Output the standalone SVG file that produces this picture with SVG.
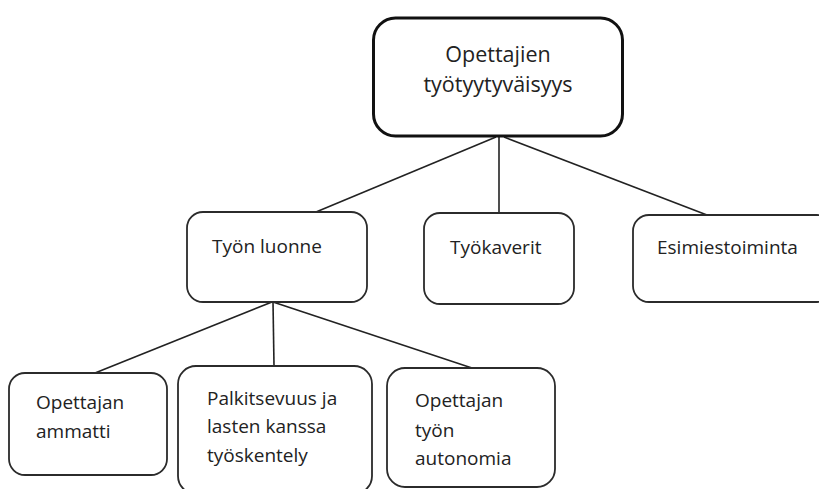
<svg xmlns="http://www.w3.org/2000/svg" width="819" height="489" viewBox="0 0 819 489">
<style>
.box{fill:#fff;stroke:#2b2b2b;stroke-width:1.8}
.main{fill:#fff;stroke:#111;stroke-width:3}
.lbl{font-family:"Open Sans","Noto Sans",sans-serif;font-size:19px;fill:#222}
.ttl{font-family:"Open Sans","Noto Sans",sans-serif;font-size:21.5px;fill:#222}
.con line{stroke:#222;stroke-width:1.6}
</style>
<rect width="819" height="489" fill="#fff"/>
<g class="con" id="connectors">
<line x1="496" y1="137" x2="316" y2="212"/>
<line x1="499" y1="137" x2="499" y2="213"/>
<line x1="504" y1="137" x2="707" y2="215"/>
<line x1="272" y1="302" x2="95" y2="373"/>
<line x1="273" y1="302" x2="274" y2="366"/>
<line x1="273" y1="302" x2="472" y2="368"/>
</g>
<g id="n-main">
<rect class="main" x="373.5" y="18" width="249" height="118" rx="22"/>
<text class="ttl" x="498" y="62" text-anchor="middle">Opettajien</text>
<text class="ttl" x="498" y="92" text-anchor="middle">työtyytyväisyys</text>
</g>
<g id="n-tyon-luonne">
<rect class="box" x="187" y="212" width="180" height="90" rx="16"/>
<text class="lbl" x="212" y="253">Työn luonne</text>
</g>
<g id="n-tyokaverit">
<rect class="box" x="424" y="213" width="150" height="91" rx="16"/>
<text class="lbl" x="450" y="254">Työkaverit</text>
</g>
<g id="n-esimiestoiminta">
<rect class="box" x="633" y="215" width="200" height="87" rx="16"/>
<text class="lbl" x="657" y="254">Esimiestoiminta</text>
</g>
<g id="n-ammatti">
<rect class="box" x="9" y="373" width="158" height="102" rx="16"/>
<text class="lbl" x="36" y="409">Opettajan</text>
<text class="lbl" x="36" y="438">ammatti</text>
</g>
<g id="n-palkitsevuus">
<rect class="box" x="178" y="366" width="194" height="128" rx="18"/>
<text class="lbl" x="207" y="405">Palkitsevuus ja</text>
<text class="lbl" x="207" y="433">lasten kanssa</text>
<text class="lbl" x="207" y="462">työskentely</text>
</g>
<g id="n-autonomia">
<rect class="box" x="387" y="368" width="168" height="119" rx="18"/>
<text class="lbl" x="415" y="407">Opettajan</text>
<text class="lbl" x="415" y="437">työn</text>
<text class="lbl" x="415" y="465">autonomia</text>
</g>
</svg>
